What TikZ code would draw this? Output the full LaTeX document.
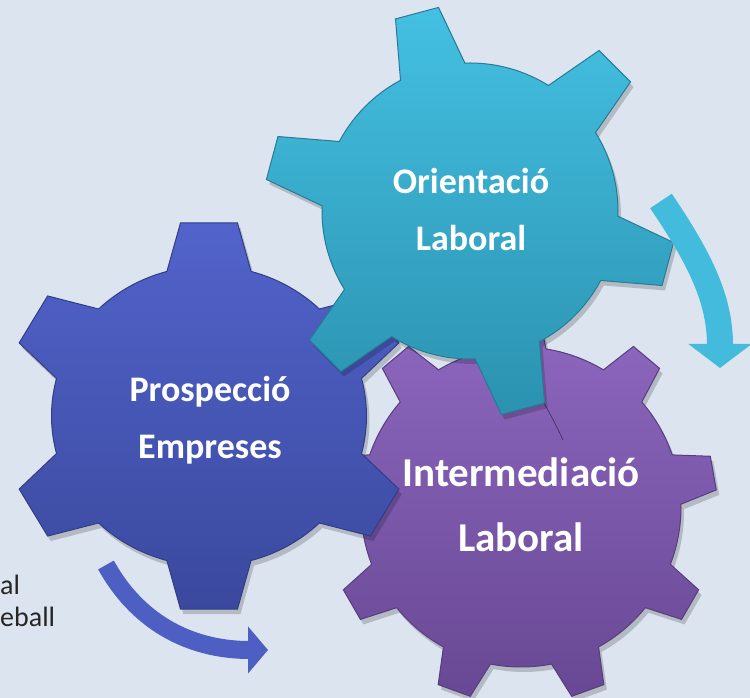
\documentclass[tikz,border=0pt]{standalone}
\usepackage{fontspec}
\setmainfont{Carlito}
\usetikzlibrary{arrows.meta}
\definecolor{bgcol}{HTML}{DCE4EF}
\definecolor{tealhi}{HTML}{44C0E2}
\definecolor{teallo}{HTML}{2B92B0}
\definecolor{bluehi}{HTML}{5263CB}
\definecolor{bluelo}{HTML}{3A499D}
\definecolor{purphi}{HTML}{8E68C0}
\definecolor{purplo}{HTML}{684894}
% gear outline: first tooth, tooth angles, tip radius, body radius, tip half angle, base half angle, pitch
\newcommand{\gearpath}[7]{(#1-#6:#4) \foreach \a in {#2} {-- (\a-#6:#4) -- (\a-#5:#3) -- (\a+#5:#3) -- (\a+#6:#4) arc[start angle=\a+#6, end angle=\a+#7-#6, radius=#4]} -- cycle}

\begin{document}
\begin{tikzpicture}[x=1pt,y=1pt,
  gear/.style={line width=1pt, preaction={fill=black, opacity=.18, transform canvas={shift={(3pt,-5pt)}}}},
  gearlabel/.style={text=white, font=\bfseries\fontsize{36}{57}\selectfont, align=center, inner sep=0pt},
  bandarrow/.style={line width=#1}]
  \path[use as bounding box, fill=bgcol] (0,0) rectangle (750,698);

  % Intermediacio
  \begin{scope}[shift={(521,191)}]
    \path[gear, draw=purplo!85!black, top color=purphi, bottom color=purplo]
      \gearpath{10}{10,50,...,330}{196pt}{160pt}{5}{9}{40};
  \end{scope}
  \draw[purplo!60!black, line width=.6pt] (527,311) .. controls (528,318) and (531,316) .. (533,312) .. controls (545,295) and (555,275) .. (563,258);

  % Prospeccio
  \begin{scope}[shift={(209,282)}, xscale=1.05]
    \path[gear, draw=bluelo!85!black, top color=bluehi, bottom color=bluelo]
      \gearpath{30}{30,90,...,330}{195pt}{150pt}{8}{15.5}{60};
  \end{scope}

  % Orientacio
  \begin{scope}[shift={(470,487)}]
    \path[gear, draw=teallo!85!black, top color=tealhi, bottom color=teallo]
      \gearpath{105}{105,165,...,405}{206pt}{148pt}{6.2}{13}{60};
  \end{scope}

  \node[gearlabel] (pe) at (210,278) {Prospecció\\Empreses};
  \node[gearlabel] (ol) at (471,488) {Orientació\\Laboral};
  \node[gearlabel, font=\bfseries\fontsize{41}{65}\selectfont] (il) at (521,193) {Intermediació\\Laboral};

  \coordinate (ta) at (661,497);
  \coordinate (tb) at (720,330);
  \draw[bandarrow=26pt, color=tealhi!90!teallo, -{Triangle[length=24pt,width=62pt]}] (ta) to[out=-56,in=90] (tb);
  \coordinate (ba) at (106,133);
  \coordinate (bb) at (268,48);
  \draw[bandarrow=18pt, color=bluehi!85!bluelo, -{Triangle[length=20pt,width=46pt]}] (ba) to[out=-61,in=180] (bb);

  \node[anchor=base west, inner sep=0pt, font=\fontsize{28}{32}\selectfont, text=black!85] (al) at (0,103) {al};
  \node[anchor=base west, inner sep=0pt, font=\fontsize{28}{32}\selectfont, text=black!85] (eb) at (0,71) {eball};
\end{tikzpicture}
\end{document}
